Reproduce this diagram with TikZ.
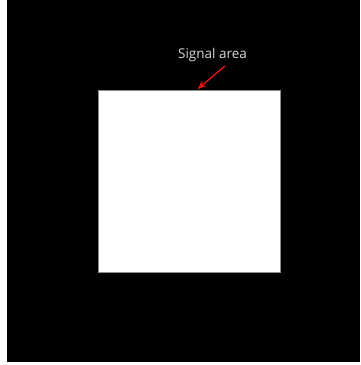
\documentclass[tikz,border=0pt]{standalone}
\usepackage{fontspec}
\setmainfont{Open Sans}
\usepackage{tikz}
\usetikzlibrary{arrows.meta, positioning}
\definecolor{labelgray}{RGB}{215, 215, 215}
\definecolor{edgegray}{RGB}{140, 140, 140}
\definecolor{pointred}{RGB}{225, 20, 20}

\begin{document}
\begin{tikzpicture}[
    x=1pt, y=1pt,
    >=Stealth,
    area/.style={rectangle, draw=edgegray, fill=white, line width=0.8pt, minimum width=182pt, minimum height=182pt, inner sep=0pt},
    tag/.style={font=\fontsize{13.5}{15}\selectfont, text=labelgray, inner sep=1pt},
    pointer/.style={->, line width=1.4pt, pointred, shorten >=0.5pt}
  ]

  % Frame
  \useasboundingbox (0, 0) rectangle (360, 365);
  \fill[white] (0, 0) rectangle (360, 365);
  \fill[black] (7, 2.5) rectangle (360, 365);

  % Signal region and its label
  \node[tag] (lbl) at (212.5, 310) {Signal area};
  \node[area] (signal) at (189, 184) {};

  % Pointer
  \draw[pointer] ([xshift=12.5pt, yshift=-3pt]lbl.south) -- ([xshift=8pt]signal.north);

\end{tikzpicture}
\end{document}
